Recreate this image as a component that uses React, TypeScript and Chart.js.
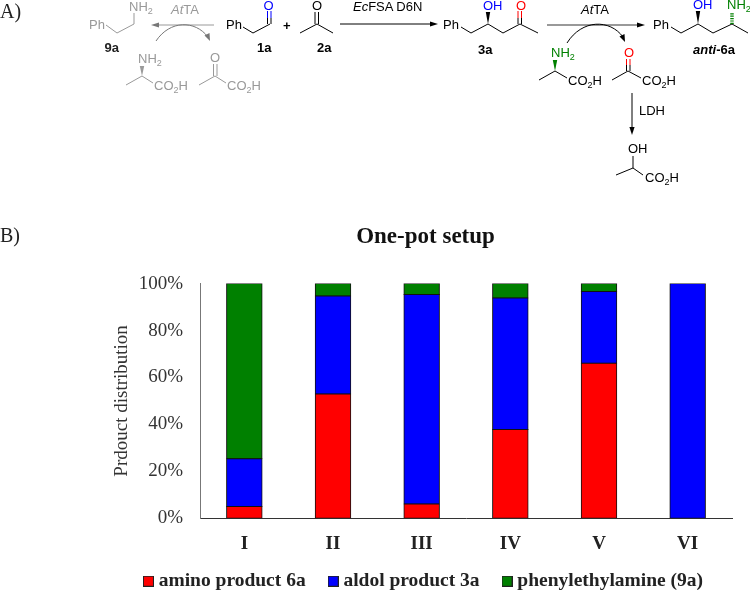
import React, { useEffect, useRef } from "react";
import { Chart, registerables } from "chart.js";

Chart.register(...registerables);

const categories = ["I", "II", "III", "IV", "V", "VI"];
const aminoProduct = [5, 52.9, 6.1, 37.8, 66.1, 0];
const aldolProduct = [20.3, 41.8, 89.3, 56.1, 30.5, 100];
const phenylethylamine = [74.7, 5.3, 4.6, 6.1, 3.4, 0];
const seriesNames = ["amino product 6a", "aldol product 3a", "phenylethylamine (9a)"];
const seriesColors = ["#ff0000", "#0000ff", "#008000"];

const SERIF = "'Liberation Serif'";
const SANS = "'Liberation Sans', Arial, sans-serif";
const INK = "#333333";
const GREY = "#999999";

function legendSwatch(color: string) {
  const c = document.createElement("canvas");
  c.width = 11;
  c.height = 11;
  const g = c.getContext("2d")!;
  g.fillStyle = "#222222";
  g.fillRect(0, 0, 11, 11);
  g.fillStyle = color;
  g.fillRect(1, 1, 9, 9);
  return c;
}

type LP = { x: number; y: number; c?: string; b?: boolean; children?: React.ReactNode };
const T = ({ x, y, c = "#000", b, children }: LP) => (
  <text x={x} y={y} fill={c} fontFamily={SANS} fontSize={13} fontWeight={b ? 700 : 400}>
    {children}
  </text>
);
const Sub = ({ t }: { t: string }) => (
  <tspan dy={3} fontSize={9}>
    {t}
  </tspan>
);
const NH2 = ({ x, y, c }: LP) => (
  <T x={x} y={y} c={c}>
    NH
    <Sub t="2" />
  </T>
);
const CO2H = ({ x, y, c }: LP) => (
  <T x={x} y={y} c={c}>
    CO
    <Sub t="2" />
    <tspan dy={-3}>H</tspan>
  </T>
);
const L = ({ d, c = "#000", w = 1, dash }: { d: string; c?: string; w?: number; dash?: string }) => (
  <path d={d} fill="none" stroke={c} strokeWidth={w} strokeDasharray={dash} />
);
const Wedge = ({ x, y1, y2, c = "#000" }: { x: number; y1: number; y2: number; c?: string }) => (
  <path d={`M${x} ${y1}L${x - 2.2} ${y2}L${x + 2.2} ${y2}Z`} fill={c} />
);
const Head = ({ x, y, dir, c = "#000" }: { x: number; y: number; dir: "l" | "r" | "d"; c?: string }) => {
  const d =
    dir === "r"
      ? `M${x} ${y}L${x - 8} ${y - 2.6}L${x - 8} ${y + 2.6}Z`
      : dir === "l"
      ? `M${x} ${y}L${x + 8} ${y - 2.6}L${x + 8} ${y + 2.6}Z`
      : `M${x} ${y}L${x - 2.6} ${y - 8}L${x + 2.6} ${y - 8}Z`;
  return <path d={d} fill={c} />;
};

const Scheme = () => (
  <svg
    width={750}
    height={590}
    style={{ position: "absolute", left: 0, top: 0, pointerEvents: "none" }}
  >
    <text x={0} y={18} fontFamily={SERIF} fontSize={20} fill="#222">A)</text>
    <text x={0} y={242} fontFamily={SERIF} fontSize={20} fill="#222">B)</text>

    {/* grey side reaction */}
    <T x={89} y={29} c={GREY}>Ph</T>
    <L c={GREY} d="M106 25L117 33L134 24L134 13" />
    <NH2 x={129} y={11} c={GREY} />
    <T x={104.5} y={52} b c="#222">9a</T>
    <L c={GREY} d="M214 25L158 25" />
    <Head x={151} y={25} dir="l" c="#777" />
    <T x={171} y={14} c={GREY}>
      <tspan fontStyle="italic">At</tspan>TA
    </T>
    <L c="#777" d="M156 41C170 20 195 20 208 37" />
    <path d="M210 41L204.500 35.500L209.500 33Z" fill="#777" />
    <NH2 x={138} y={63} c={GREY} />
    <Wedge x={142} y1={76} y2={66} c={GREY} />
    <L c={GREY} d="M126 85L142 76L153 83" />
    <CO2H x={154} y={90} c={GREY} />
    <T x={210} y={62} c={GREY}>O</T>
    <L c={GREY} d="M213.500 64L213.500 76M217 64L217 76" />
    <L c={GREY} d="M199 85L215 76L226 83" />
    <CO2H x={227} y={90} c={GREY} />

    {/* 1a + 2a */}
    <T x={226} y={29}>Ph</T>
    <L d="M243 27L253 33L270 24" />
    <L d="M267.500 24L267.500 18M271 24L271 18" />
    <L c="#0000ff" d="M267.500 18L267.500 11M271 18L271 11" />
    <T x={263.500} y={10} c="#0000ff">O</T>
    <T x={257} y={52} b>1a</T>
    <T x={283} y={30} b>+</T>
    <T x={312} y={10}>O</T>
    <L d="M300 33L317 24L333 33" />
    <L d="M315 24L315 12M318.500 24L318.500 12" />
    <T x={317} y={52} b>2a</T>
    <L d="M340 24L434 24" />
    <Head x={438} y={24} dir="r" />
    <T x={353} y={11}>
      <tspan fontStyle="italic">Ec</tspan>FSA D6N
    </T>

    {/* 3a */}
    <T x={443} y={29}>Ph</T>
    <L d="M461 27L471 33L488 24L503 33L520 24L538 33" />
    <Wedge x={488} y1={24} y2={12} />
    <T x={483} y={10} c="#0000ff">OH</T>
    <L d="M518 24L518 18M521.500 24L521.500 18" />
    <L c="#ff0000" d="M518 18L518 11M521.500 18L521.500 11" />
    <T x={516} y={10} c="#ff0000">O</T>
    <T x={478} y={54} b>3a</T>

    {/* AtTA step */}
    <L c="#777" w={1.6} d="M547 25L640 25" />
    <Head x={645} y={25} dir="r" />
    <T x={581} y={14}>
      <tspan fontStyle="italic">At</tspan>TA
    </T>
    <L d="M567 43C582 19 610 19 623 37" />
    <path d="M625 42L619.500 36.500L624.500 34Z" fill="#000" />
    <NH2 x={551} y={57} c="#008000" />
    <Wedge x={555} y1={71} y2={60} c="#008000" />
    <L d="M539 80L555 71L567 78" />
    <CO2H x={568} y={85} />
    <T x={624} y={57} c="#ff0000">O</T>
    <L c="#ff0000" d="M626.500 59L626.500 65M630 59L630 65" />
    <L d="M626.500 65L626.500 71M630 65L630 71" />
    <L d="M612 80L628 71L641 78" />
    <CO2H x={642} y={85} />
    <L d="M632 93L632 128" />
    <Head x={632} y={135} dir="d" />
    <T x={639} y={115}>LDH</T>
    <T x={628} y={153}>OH</T>
    <L d="M633 156L633 168M616 175L633 168L643 175" />
    <CO2H x={645} y={182} />

    {/* anti-6a */}
    <T x={653} y={29}>Ph</T>
    <L d="M671 27L681 33L698 24L713 33L732 24L748 33" />
    <Wedge x={698} y1={24} y2={11} />
    <T x={693} y={9} c="#0000ff">OH</T>
    <NH2 x={727} y={9} c="#008000" />
    <L c="#008000" w={3.5} dash="1.2 1.2" d="M732 24L732 12" />
    <T x={693} y={54} b>
      <tspan fontStyle="italic">anti</tspan>-6a
    </T>
  </svg>
);

export default function App() {
  const ref = useRef<HTMLCanvasElement>(null);

  useEffect(() => {
    const values = [aminoProduct, aldolProduct, phenylethylamine];
    const chart = new Chart(ref.current!, {
      type: "bar",
      data: {
        labels: categories,
        datasets: values.map((data, i) => ({
          label: seriesNames[i],
          data,
          backgroundColor: seriesColors[i],
          borderColor: "#111111",
          borderWidth: 1,
          inflateAmount: 0.5,
          borderSkipped: false,
          barPercentage: 0.4,
          categoryPercentage: 1,
        })),
      },
      plugins: [
        {
          id: "tallerTickBand",
          afterLayout: (c: any) => {
            c.scales.x.bottom = c.scales.x.top + 45;
          },
        },
      ],
      options: {
        animation: false,
        responsive: false,
        layout: { padding: { left: 119, right: 18, top: 223, bottom: -11 } },
        plugins: {
          tooltip: { enabled: false },
          title: {
            display: true,
            text: "One-pot setup",
            color: "#111111",
            font: { family: SERIF, size: 23, weight: "bold" },
            padding: { top: 0, bottom: 33 },
          },
          legend: {
            position: "bottom",
            labels: {
              color: "#222222",
              font: { family: SERIF, size: 19.5, weight: "bold" },
              usePointStyle: true,
              boxWidth: 1,
              padding: 27,
              generateLabels: (c: Chart) =>
                Chart.defaults.plugins.legend.labels.generateLabels(c).map((item: any, i: number) => ({
                  ...item,
                  pointStyle: legendSwatch(seriesColors[i]),
                })),
            },
          },
        },
        scales: {
          x: {
            stacked: true,
            grid: { display: false, drawTicks: false },
            border: { color: "#333333", width: 1 },
            ticks: {
              color: "#222222",
              font: { family: SERIF, size: 19, weight: "bold" },
              padding: 14,
              maxRotation: 0,
            },
            afterFit: (s: any) => {
              s.height = 26.3;
            },
          },
          y: {
            stacked: true,
            min: 0,
            max: 100,
            grid: { display: false, drawTicks: false },
            border: { color: "#777777", width: 1 },
            ticks: {
              stepSize: 20,
              color: INK,
              font: { family: SERIF, size: 19 },
              padding: 17,
              callback: (v: any) => `${v}%`,
            },
            title: {
              display: true,
              text: "Prdouct distribution",
              color: INK,
              font: { family: SERIF, size: 19 },
              padding: { top: -8.5, bottom: 0 },
            },
            afterFit: (s: any) => {
              s.width = 81;
            },
          },
        },
      },
    } as any);
    return () => chart.destroy();
  }, []);

  return (
    <div style={{ position: "absolute", left: 0, top: 0, width: 750, height: 590, background: "#fff" }}>
      <canvas ref={ref} width={750} height={590} style={{ display: "block" }} />
      <Scheme />
    </div>
  );
}
